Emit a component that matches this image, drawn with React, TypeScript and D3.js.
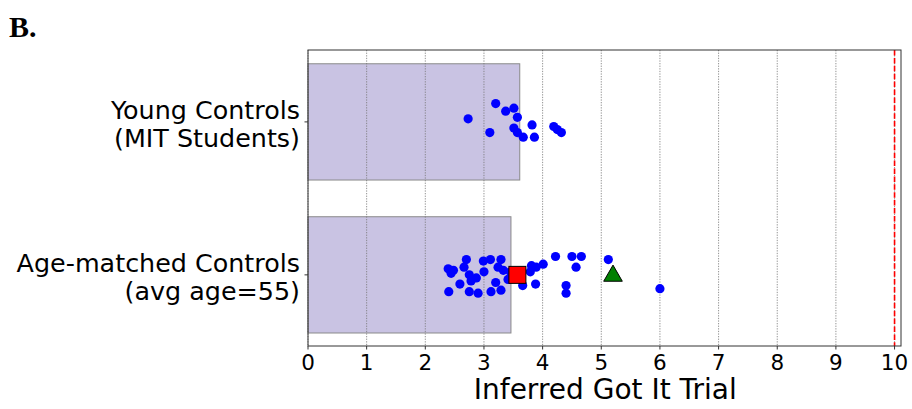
import React from "react";
import * as d3 from "d3";

const categories = ["Young Controls\n(MIT Students)", "Age-matched Controls\n(avg age=55)"];
const barValues = [3.61, 3.46];
const xTicks = [0, 1, 2, 3, 4, 5, 6, 7, 8, 9, 10];
const maxTrial = 10;

// individual points: [value, vertical jitter in category units (+ = down)]
const youngPoints: [number, number][] = [
  [2.73, -0.02], [3.2, -0.12], [3.37, -0.07], [3.51, -0.09], [3.57, -0.03],
  [3.1, 0.07], [3.51, 0.04], [3.57, 0.07], [3.67, 0.1], [3.82, 0.02],
  [3.86, 0.1], [4.19, 0.03], [4.25, 0.05], [4.32, 0.07],
];
const agePoints: [number, number][] = [
  [2.39, -0.04], [2.48, -0.03], [2.44, -0.01], [2.4, 0.11], [2.59, 0.06],
  [2.66, -0.05], [2.7, -0.1], [2.75, 0.0], [2.78, 0.04], [2.87, 0.02],
  [2.75, 0.11], [2.9, 0.12], [2.99, -0.09], [3.0, -0.02], [3.11, -0.1],
  [3.2, 0.05], [3.12, 0.11], [3.29, -0.1], [3.29, 0.1], [3.24, -0.05],
  [3.33, -0.03], [3.41, 0.03], [3.66, 0.07], [3.81, -0.06], [3.79, -0.02],
  [3.89, -0.05], [4.01, -0.07], [3.88, 0.06], [4.22, -0.12], [4.5, -0.12],
  [4.66, -0.12], [4.57, -0.05], [5.12, -0.1], [4.4, 0.07], [4.4, 0.12],
  [6.0, 0.09], [3.5, 0.0], [3.45, -0.02],
];
const squareMarker = { value: 3.57, cat: 1 };
const triangleMarker = { value: 5.2, cat: 1 };

export default function App() {
  const W = 912, H = 409;
  const left = 308, right = 901, top = 50, bottom = 346;
  const x = d3.scaleLinear().domain([0, 10.11]).range([left, right]);
  const y = d3.scaleLinear().domain([-0.47, 1.465]).range([top, bottom]);
  const barH = y(0.38) - y(0);
  const triPath = d3.symbol().type(d3.symbolTriangle).size(150)() as string;
  const groups = [youngPoints, agePoints];
  return (
    <svg width={W} height={H} style={{ position: "absolute", left: 0, top: 0, fontFamily: "DejaVu Sans" }}>
      <rect x={0} y={0} width={W} height={H} fill="#fff" />
      <text x={9} y={37} fontFamily="Liberation Serif" fontWeight="bold" fontSize={30}>B.</text>
      {barValues.map((v, i) => (
        <rect key={i} x={x(0)} y={y(i) - barH} width={x(v) - x(0)} height={barH * 2}
          fill="#c9c3e3" stroke="#8a8a8a" strokeWidth={1} />
      ))}
      {xTicks.map((t) => (
        <line key={t} x1={x(t)} x2={x(t)} y1={top} y2={bottom} stroke="#777" strokeWidth={0.8} strokeDasharray="1.3,1.3" />
      ))}
      <line x1={x(maxTrial)} x2={x(maxTrial)} y1={top} y2={bottom} stroke="#ff0000" strokeWidth={1.6} strokeDasharray="5.5,2.4" />
      {groups.map((pts, gi) =>
        pts.map((p, j) => (
          <circle key={gi + "-" + j} cx={x(p[0])} cy={y(gi + p[1])} r={4.6} fill="#0000ff" />
        ))
      )}
      <rect x={x(squareMarker.value) - 8.5} y={y(squareMarker.cat) - 8.5} width={17} height={17} fill="#ff0000" stroke="#000" strokeWidth={1} />
      <path d={triPath} transform={`translate(${x(triangleMarker.value)},${y(triangleMarker.cat) + 1})`} fill="#008000" stroke="#000" strokeWidth={1} />
      <rect x={left} y={top} width={right - left} height={bottom - top} fill="none" stroke="#333" strokeWidth={1} />
      {xTicks.map((t) => (
        <g key={t}>
          <line x1={x(t)} x2={x(t)} y1={bottom} y2={bottom + 3.5} stroke="#333" />
          <text x={x(t)} y={bottom + 24} textAnchor="middle" fontSize={21.5}>{t}</text>
        </g>
      ))}
      {categories.map((c, i) => {
        const lines = c.split("\n");
        return (
          <g key={i}>
            <line x1={left - 3.5} x2={left} y1={y(i)} y2={y(i)} stroke="#333" />
            {lines.map((ln, k) => (
              <text key={k} x={left - 8} y={y(i) - 3 + k * 28} textAnchor="end" fontSize={25.4}>{ln}</text>
            ))}
          </g>
        );
      })}
      <text x={(left + x(10)) / 2 + 4} y={399} textAnchor="middle" fontSize={28}>Inferred Got It Trial</text>
    </svg>
  );
}
